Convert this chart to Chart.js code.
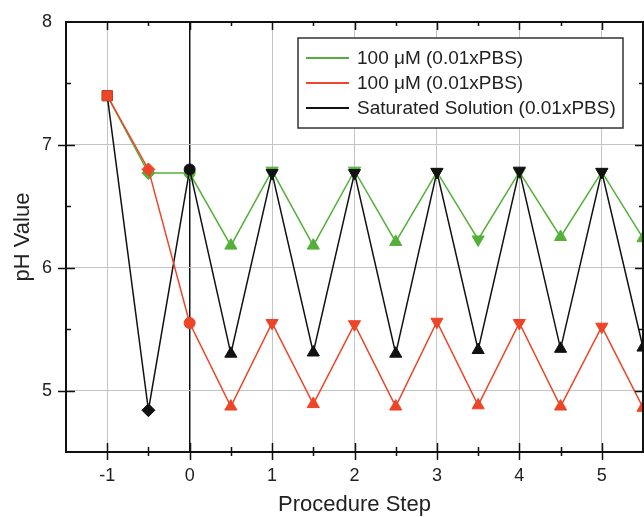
<!DOCTYPE html>
<html>
<head>
<meta charset="utf-8">
<title>pH Value vs Procedure Step</title>
<script src="https://cdn.jsdelivr.net/npm/chart.js@4"></script>
<style>
  html, body { margin: 0; padding: 0; background: #fff; }
  canvas { display: block; }
</style>
</head>
<body>
<canvas id="phChart" width="644" height="517"></canvas>
<script>
// Procedure steps and the pH measured for each solution
const steps = [-1, -0.5, 0, 0.5, 1, 1.5, 2, 2.5, 3, 3.5, 4, 4.5, 5, 5.5];
const greenPH = [7.40, 6.77, 6.77, 6.18, 6.79, 6.18, 6.79, 6.21, 6.78, 6.23, 6.78, 6.25, 6.78, 6.24];
const redPH   = [7.40, 6.80, 5.55, 4.87, 5.55, 4.89, 5.54, 4.87, 5.56, 4.88, 5.55, 4.87, 5.52, 4.86];
const blackPH = [7.40, 4.84, 6.80, 5.30, 6.77, 5.31, 6.77, 5.30, 6.78, 5.33, 6.79, 5.34, 6.78, 5.35];

const seriesLabels = ["100 \u03bcM (0.01xPBS)", "100 \u03bcM (0.01xPBS)", "Saturated Solution (0.01xPBS)"];
const xTicks = [-1, 0, 1, 2, 3, 4, 5];
const yTicks = [5, 6, 7, 8];

const GREEN = "#55b03a";
const RED = "#ec4527";
const BLACK = "#111111";
const FONT = 'Arial, "Liberation Sans", sans-serif';

// Marker shape depends on the step: square, diamond, circle, then triangles
function shapeFor(x) {
  if (x === -1) return "rect";
  if (x === -0.5) return "rectRot";
  if (x === 0) return "circle";
  return "triangle";
}
function sizeFor(x) {
  if (x === -1) return 7;
  if (x === -0.5) return 6.5;
  if (x === 0) return 5.5;
  return 7;
}
// triangles point down on whole steps, up on half steps
function rotationFor(x, flipped) {
  if (x <= 0) return 0;
  if (flipped && flipped.includes(x)) return 180;
  return Number.isInteger(x) ? 180 : 0;
}

function makeDataset(label, values, color, order, flipped) {
  return {
    label: label,
    data: steps.map((s, i) => ({ x: s, y: values[i] })),
    borderColor: color,
    backgroundColor: color,
    borderWidth: 1.5,
    tension: 0,
    order: order,
    pointStyle: steps.map(shapeFor),
    pointRadius: steps.map(sizeFor),
    pointRotation: steps.map(s => rotationFor(s, flipped)),
    pointBorderWidth: 1,
    pointBorderColor: color,
    pointBackgroundColor: color
  };
}

// Box frame with Origin-style major/minor ticks on all four sides
const frameAndTicks = {
  id: "frameAndTicks",
  afterDatasetsDraw(chart) {
    const { ctx, chartArea: a, scales: { x, y } } = chart;
    ctx.save();
    ctx.strokeStyle = BLACK;
    ctx.lineWidth = 1.5;
    ctx.beginPath();
    for (let v = x.min + 0.5; v < x.max; v += 0.5) {
      const px = Math.round(x.getPixelForValue(v)) + 0.5;
      const major = Number.isInteger(v);
      ctx.moveTo(px, a.bottom - (major ? 9 : 5));
      ctx.lineTo(px, a.bottom + (major ? 8 : 4));
      ctx.moveTo(px, a.top);
      ctx.lineTo(px, a.top + (major ? 8 : 4));
    }
    for (let v = y.min + 0.5; v < y.max; v += 0.5) {
      const py = Math.round(y.getPixelForValue(v)) + 0.5;
      const major = Number.isInteger(v);
      ctx.moveTo(a.left - (major ? 8 : 0), py);
      ctx.lineTo(a.left + (major ? 9 : 5), py);
      ctx.moveTo(a.right - (major ? 8 : 4), py);
      ctx.lineTo(a.right, py);
    }
    ctx.stroke();
    ctx.lineWidth = 2;
    ctx.strokeRect(a.left, a.top, a.right - a.left, a.bottom - a.top);
    ctx.restore();
  }
};

// Legend box drawn inside the plot area
const boxLegend = {
  id: "boxLegend",
  afterDraw(chart) {
    const { ctx } = chart;
    const box = { left: 298, top: 38, right: 623, bottom: 128 };
    ctx.save();
    ctx.fillStyle = "#fff";
    ctx.fillRect(box.left, box.top, box.right - box.left, box.bottom - box.top);
    ctx.strokeStyle = "#333";
    ctx.lineWidth = 1.5;
    ctx.strokeRect(box.left, box.top, box.right - box.left, box.bottom - box.top);
    ctx.font = "19px " + FONT;
    ctx.textBaseline = "middle";
    ctx.fillStyle = "#222";
    chart.data.datasets.forEach((ds, i) => {
      const rowY = 58 + i * 25;
      ctx.strokeStyle = ds.borderColor;
      ctx.lineWidth = 2;
      ctx.beginPath();
      ctx.moveTo(306, rowY);
      ctx.lineTo(349, rowY);
      ctx.stroke();
      ctx.fillText(ds.label, 357, rowY + 1);
    });
    ctx.restore();
  }
};

const gridColor = c => (c.tick && c.tick.value === 0 ? BLACK : "#c4c4c4");
const gridWidth = c => (c.tick && c.tick.value === 0 ? 1.5 : 1);

new Chart(document.getElementById("phChart"), {
  type: "line",
  data: {
    datasets: [
      makeDataset(seriesLabels[0], greenPH, GREEN, 2, [3.5]),
      makeDataset(seriesLabels[1], redPH, RED, 0),
      makeDataset(seriesLabels[2], blackPH, BLACK, 1)
    ]
  },
  options: {
    responsive: false,
    animation: false,
    layout: { autoPadding: false, padding: { top: 22, right: 1, left: 0, bottom: 0 } },
    plugins: {
      legend: { display: false },
      tooltip: { enabled: false }
    },
    scales: {
      x: {
        type: "linear",
        min: -1.5,
        max: 5.5,
        afterBuildTicks: s => { s.ticks = xTicks.map(v => ({ value: v })); },
        afterFit: s => { s.height = 65; s.paddingLeft = 0; s.paddingRight = 0; },
        ticks: { font: { family: FONT, size: 18 }, color: "#222", padding: 13 },
        grid: { color: gridColor, lineWidth: gridWidth, drawTicks: false },
        border: { display: false },
        title: {
          display: true,
          text: "Procedure Step",
          font: { family: FONT, size: 22, lineHeight: 1 },
          color: "#222",
          padding: { top: 0, bottom: 1 }
        }
      },
      y: {
        min: 4.5,
        max: 8,
        afterBuildTicks: s => { s.ticks = yTicks.map(v => ({ value: v })); },
        afterFit: s => { s.width = 66; s.paddingTop = 0; s.paddingBottom = 0; },
        ticks: { font: { family: FONT, size: 18 }, color: "#222", padding: 14 },
        grid: { color: "#c4c4c4", lineWidth: 1, drawTicks: false },
        border: { display: false },
        title: {
          display: true,
          text: "pH Value",
          font: { family: FONT, size: 22, lineHeight: 1 },
          color: "#222",
          padding: { top: 12, bottom: 0 }
        }
      }
    }
  },
  plugins: [frameAndTicks, boxLegend]
});
</script>
</body>
</html>
